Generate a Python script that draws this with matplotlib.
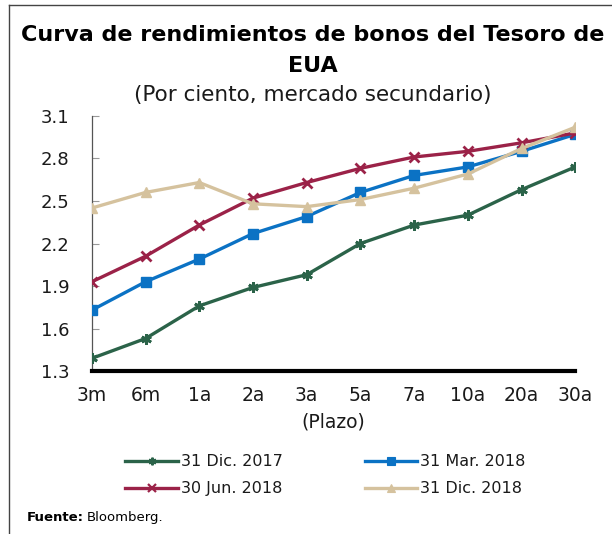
import matplotlib
matplotlib.use("Agg")
import matplotlib.pyplot as plt
from matplotlib.lines import Line2D

plazos = ["3m", "6m", "1a", "2a", "3a", "5a", "7a", "10a", "20a", "30a"]
dic2017 = [1.39, 1.53, 1.76, 1.89, 1.98, 2.20, 2.33, 2.40, 2.58, 2.74]
mar2018 = [1.73, 1.93, 2.09, 2.27, 2.39, 2.56, 2.68, 2.74, 2.85, 2.97]
jun2018 = [1.93, 2.11, 2.33, 2.52, 2.63, 2.73, 2.81, 2.85, 2.91, 2.98]
dic2018 = [2.45, 2.56, 2.63, 2.48, 2.46, 2.51, 2.59, 2.69, 2.87, 3.02]
labels = ["31 Dic. 2017", "31 Mar. 2018", "30 Jun. 2018", "31 Dic. 2018"]
yticks = [1.3, 1.6, 1.9, 2.2, 2.5, 2.8, 3.1]

plt.rcParams['font.family'] = ['DejaVu Sans']

fig = plt.figure(figsize=(6.12, 5.34), dpi=100)
ax = fig.add_axes([0.150, 0.305, 0.790, 0.478])

x = list(range(len(plazos)))
series = [
    (dic2017, "#2B6349", (6, 2, 0), 7.5, 2.0),
    (mar2018, "#0B72C4", "s", 7.5, 1.0),
    (jun2018, "#9B2248", "x", 6.5, 2.0),
    (dic2018, "#D5C29E", "^", 7.5, 1.0),
]
handles = []
for (vals, col, mk, ms, mew), lab in zip(series, labels):
    ax.plot(x, vals, color=col, lw=2.4, marker=mk, ms=ms, mew=mew, zorder=3)
    handles.append(Line2D([0], [0], color=col, lw=2.4, marker=mk, ms=5.5, mew=mew * 0.8))

ax.set_xlim(0, 9)
ax.set_ylim(1.3, 3.1)
ax.set_yticks(yticks)
ax.set_yticklabels([f"{v:.1f}" for v in yticks])
ax.set_xticks(x)
ax.set_xticklabels(plazos)
ax.tick_params(axis='x', length=0, pad=11, labelsize=13.5, labelcolor='#1a1a1a')
ax.tick_params(axis='y', direction='in', length=5, color='#999999', pad=16,
               labelsize=13, labelcolor='#1a1a1a')
for s in ['top', 'right']:
    ax.spines[s].set_visible(False)
ax.spines['left'].set_color('#555555')
ax.spines['left'].set_linewidth(0.9)
ax.spines['bottom'].set_color('black')
ax.spines['bottom'].set_linewidth(3)
ax.set_xlabel("(Plazo)", fontsize=13.5, labelpad=5, color='#1a1a1a')

fig.text(0.511, 0.935, "Curva de rendimientos de bonos del Tesoro de",
         ha='center', va='center', fontsize=16, fontweight='bold')
fig.text(0.511, 0.877, "EUA", ha='center', va='center', fontsize=16, fontweight='bold')
fig.text(0.511, 0.822, "(Por ciento, mercado secundario)", ha='center', va='center',
         fontsize=15.5, color='#1a1a1a')

# reorder so that rows read: Dic2017, Mar2018 / Jun2018, Dic2018
order = [0, 2, 1, 3]
leg = fig.legend([handles[i] for i in order], [labels[i] for i in order],
                 loc='center', bbox_to_anchor=(0.532, 0.11),
                 ncol=2, frameon=False, fontsize=11.5, handlelength=3.3,
                 handletextpad=0.2, columnspacing=5.1, labelspacing=0.75)
for t in leg.get_texts():
    t.set_color('#1a1a1a')

fig.text(0.044, 0.030, "Fuente:", fontsize=9.5, fontweight='bold', va='center')
fig.text(0.142, 0.030, "Bloomberg.", fontsize=9.5, va='center')

# frame lines (top and left)
fig.add_artist(Line2D([0.015, 1.0], [0.990, 0.990], color='#444444', lw=1.0,
                      transform=fig.transFigure))
fig.add_artist(Line2D([0.015, 0.015], [0.0, 0.990], color='#444444', lw=1.0,
                      transform=fig.transFigure))

fig.savefig("out.png", dpi=100)
